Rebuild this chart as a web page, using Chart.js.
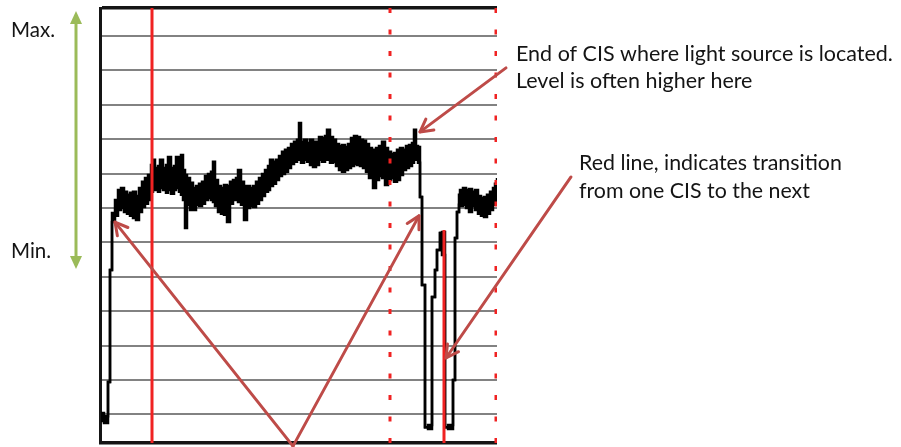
<!DOCTYPE html>
<html>
<head>
<meta charset="utf-8">
<script src="https://cdn.jsdelivr.net/npm/chart.js@4.4.1/dist/chart.umd.min.js"></script>
<style>
  html, body { margin: 0; padding: 0; background: #fff; overflow: hidden; }
  canvas { display: block; }
</style>
</head>
<body>
<canvas id="scan" width="901" height="447"></canvas>
<script>
// Pixel position along the contact image sensor (CIS) scan line
const position = [
  1, 4, 8, 10, 12,
  15, 18, 21, 24, 27, 30, 33, 36, 39, 42,
  45, 48, 51, 53, 55, 58, 60, 63, 66, 68,
  71, 74, 76, 79, 81, 83, 85, 87, 90, 93,
  96, 99, 102, 105, 108, 111, 113, 115, 118, 121,
  124, 127, 130, 133, 136, 138, 141, 144, 147, 150,
  153, 156, 159, 162, 165, 168, 170, 173, 176, 179,
  182, 185, 188, 191, 194, 197, 199, 201, 204, 207,
  210, 213, 216, 219, 222, 225, 227, 230, 233, 236,
  239, 242, 245, 248, 251, 254, 257, 260, 263, 266,
  269, 272, 273, 276, 279, 282, 285, 288, 291, 294,
  297, 300, 303, 306, 309, 312, 314, 316, 318, 320,
  322, 325, 328, 332, 335, 337, 340, 342, 345, 348,
  353, 355, 357, 359, 360, 363, 366, 369, 372, 375,
  378, 381, 384, 387, 390, 393, 395, 397
];

// Upper edge of the noisy signal level at each position
const levelHigh = [
  0.4, -0.5, 9.4, 42.0, 58.5,
  62.3, 65.2, 65.8, 64.7, 63.8, 64.4, 64.7, 63.5, 65.8, 67.6,
  68.7, 69.6, 72.5, 74.0, 71.6, 72.2, 74.0, 71.6, 72.5, 74.8,
  71.6, 72.2, 74.8, 72.5, 75.4, 71.0, 69.6, 68.7, 67.3, 65.8,
  66.4, 67.0, 67.6, 69.3, 69.9, 70.5, 73.4, 68.1, 66.4, 65.8,
  66.7, 66.4, 67.6, 68.1, 68.7, 71.0, 67.6, 66.4, 66.4, 65.8,
  66.4, 67.6, 68.7, 69.9, 71.0, 72.2, 74.0, 73.4, 74.0, 75.1,
  76.3, 76.9, 77.4, 78.6, 79.2, 79.8, 84.7, 79.2, 79.8, 78.9,
  79.8, 79.2, 79.2, 80.6, 80.3, 80.9, 82.7, 80.6, 79.8, 78.6,
  78.0, 78.3, 77.7, 78.6, 80.3, 80.9, 80.6, 79.8, 79.5, 78.6,
  77.4, 76.9, 76.9, 77.4, 78.0, 79.2, 77.4, 76.3, 75.7, 76.0,
  76.9, 77.4, 76.9, 78.0, 78.3, 78.9, 82.7, 78.0, 77.7, 63.2,
  37.6, -3.7, -3.1, 34.1, 42.0, 47.8, 52.7, 53.0, -3.7, -3.1,
  10.0, 51.3, 58.8, 63.8, 65.2, 65.8, 65.2, 65.5, 64.7, 65.2,
  63.5, 62.9, 63.2, 63.8, 64.7, 65.8, 67.0, 68.7
];

// Lower edge of the noisy signal level at each position
const levelLow = [
  -1.9, -2.5, 9.4, 42.0, 55.9,
  57.7, 59.4, 60.0, 58.8, 58.3, 57.7, 57.1, 56.5, 58.8, 60.3,
  61.2, 62.3, 64.7, 65.2, 65.2, 64.7, 65.8, 65.2, 64.4, 65.2,
  64.1, 65.2, 65.8, 64.7, 63.8, 62.3, 54.2, 60.9, 59.4, 59.4,
  60.9, 60.6, 61.2, 62.3, 62.9, 62.3, 61.7, 60.6, 58.8, 58.3,
  58.0, 55.9, 61.2, 62.3, 62.3, 61.7, 60.9, 56.5, 60.0, 60.6,
  60.3, 61.2, 62.3, 63.5, 64.7, 65.2, 66.4, 67.0, 68.1, 69.3,
  69.9, 70.5, 71.6, 72.8, 73.4, 74.0, 74.5, 73.1, 74.0, 73.4,
  72.5, 71.9, 72.5, 74.0, 73.4, 74.5, 74.0, 73.1, 73.4, 72.2,
  71.0, 70.5, 71.0, 71.6, 72.2, 72.8, 72.5, 72.2, 71.6, 70.5,
  68.7, 69.3, 65.8, 68.1, 69.3, 68.7, 66.7, 68.1, 68.7, 67.6,
  68.1, 69.6, 71.0, 71.6, 72.2, 73.1, 74.0, 74.0, 73.1, 63.2,
  37.6, -3.7, -4.2, 34.1, 42.0, 47.8, 52.7, 46.3, -3.7, -4.2,
  10.0, 51.3, 58.8, 60.9, 60.6, 60.9, 60.0, 58.8, 60.6, 59.4,
  58.3, 57.7, 57.4, 58.3, 59.4, 60.9, 61.5, 62.9
];

// Level axis
const levelMin = -8.3;
const levelMax = 118.1;
const levelTicks = [0, 10, 20, 30, 40, 50, 60, 70, 80, 90, 100, 110];
const positionMin = 0;
const positionMax = 397;

// CIS markers: solid = transition between sensors, dotted = sensor end
const transitionAt = [52, 344];
const transitionTop = [118.1, 53.6];
const sensorEndAt = [290, 396];

// Callout arrows, in axis units
const calloutFrom = [[406, 100.7], [471, 69.0], [193, -9.2], [193, -9.2]];
const calloutTo = [[320, 82.1], [346, 16.4], [15, 55.9], [319, 57.7]];

const CIS_RED = '#f02222';
const CALLOUT = '#be4b48';
const RANGE_GREEN = '#9bbb59';
const INK = '#141414';
const FONT = 'Lato, "Open Sans", sans-serif';

const pts = vals => position.map((x, i) => ({ x, y: vals[i] }));

const markerSets = [];
transitionAt.forEach((x, i) => markerSets.push({
  data: [{ x, y: transitionTop[i] }, { x, y: levelMin }],
  borderColor: CIS_RED, borderWidth: 3, pointRadius: 0, fill: false, order: 0
}));
sensorEndAt.forEach(x => markerSets.push({
  data: [{ x, y: levelMax }, { x, y: levelMin }],
  borderColor: CIS_RED, borderWidth: 3, borderDash: [5, 16.5],
  pointRadius: 0, fill: false, order: 0
}));

function arrowLine(ctx, x1, y1, x2, y2) {
  ctx.beginPath();
  ctx.moveTo(x1, y1);
  ctx.lineTo(x2, y2);
  ctx.stroke();
  const a = Math.atan2(y2 - y1, x2 - x1), len = 14, spread = 0.5;
  ctx.beginPath();
  ctx.moveTo(x2 - len * Math.cos(a - spread), y2 - len * Math.sin(a - spread));
  ctx.lineTo(x2, y2);
  ctx.lineTo(x2 - len * Math.cos(a + spread), y2 - len * Math.sin(a + spread));
  ctx.stroke();
}

function fitSize(ctx, text, width) {
  ctx.font = '40px ' + FONT;
  return 40 * width / ctx.measureText(text).width;
}

const callouts = {
  id: 'callouts',
  afterDraw(chart) {
    const { ctx } = chart;
    const xs = chart.scales.x, ys = chart.scales.y;
    ctx.save();

    // Max / Min range arrow
    ctx.strokeStyle = RANGE_GREEN;
    ctx.fillStyle = RANGE_GREEN;
    ctx.lineWidth = 3;
    ctx.beginPath();
    ctx.moveTo(76, 20); ctx.lineTo(76, 260); ctx.stroke();
    ctx.beginPath();
    ctx.moveTo(76, 11); ctx.lineTo(70, 24); ctx.lineTo(82, 24); ctx.closePath(); ctx.fill();
    ctx.beginPath();
    ctx.moveTo(76, 269); ctx.lineTo(70, 256); ctx.lineTo(82, 256); ctx.closePath(); ctx.fill();

    // Callout arrows
    ctx.strokeStyle = CALLOUT;
    ctx.lineWidth = 3;
    ctx.lineCap = 'round';
    ctx.lineJoin = 'round';
    calloutFrom.forEach((f, i) => {
      const t = calloutTo[i];
      arrowLine(ctx,
        xs.getPixelForValue(f[0]), ys.getPixelForValue(f[1]),
        xs.getPixelForValue(t[0]), ys.getPixelForValue(t[1]));
    });

    // Texts
    ctx.fillStyle = INK;
    ctx.textBaseline = 'alphabetic';
    ctx.textAlign = 'left';
    let s = fitSize(ctx, 'Max.', 44);
    ctx.font = s.toFixed(2) + 'px ' + FONT;
    ctx.fillText('Max.', 11, 37);
    ctx.fillText('Min.', 11, 258);

    s = fitSize(ctx, 'End of CIS where light source is located.', 377);
    ctx.font = s.toFixed(2) + 'px ' + FONT;
    ctx.fillText('End of CIS where light source is located.', 516, 61);
    ctx.fillText('Level is often higher here', 516, 88);

    s = fitSize(ctx, 'from one CIS to the next', 231);
    ctx.font = s.toFixed(2) + 'px ' + FONT;
    ctx.fillText('Red line, indicates transition', 579, 170);
    ctx.fillText('from one CIS to the next', 579, 198);
    ctx.restore();
  }
};

new Chart(document.getElementById('scan'), {
  type: 'line',
  data: {
    datasets: [
      ...markerSets,
      {
        data: pts(levelHigh), stepped: true, borderColor: '#000', borderWidth: 2.5,
        pointRadius: 0, fill: false, order: 1, borderJoin: 'miter'
      },
      {
        data: pts(levelLow), stepped: true, borderColor: '#000', borderWidth: 2.5,
        pointRadius: 0, fill: '-1', backgroundColor: '#000', order: 1, borderJoin: 'miter'
      }
    ]
  },
  options: {
    responsive: false,
    devicePixelRatio: 1,
    animation: false,
    events: [],
    layout: { padding: { left: 100, right: 404, top: 8, bottom: 4 } },
    plugins: { legend: { display: false }, tooltip: { enabled: false } },
    scales: {
      x: { type: 'linear', min: positionMin, max: positionMax, display: false },
      y: {
        type: 'linear', min: levelMin, max: levelMax,
        afterBuildTicks: sc => {
          sc.ticks = [levelMin, ...levelTicks, levelMax].map(v => ({ value: v }));
        },
        ticks: { display: false },
        grid: {
          drawTicks: false,
          color: c => (c.tick && (c.tick.value === levelMin || c.tick.value === levelMax)) ? '#151515' : '#828282',
          lineWidth: c => (c.tick && (c.tick.value === levelMin || c.tick.value === levelMax)) ? 3.5 : 2
        },
        border: { display: true, color: '#151515', width: 3 }
      }
    }
  },
  plugins: [callouts]
});
</script>
</body>
</html>
